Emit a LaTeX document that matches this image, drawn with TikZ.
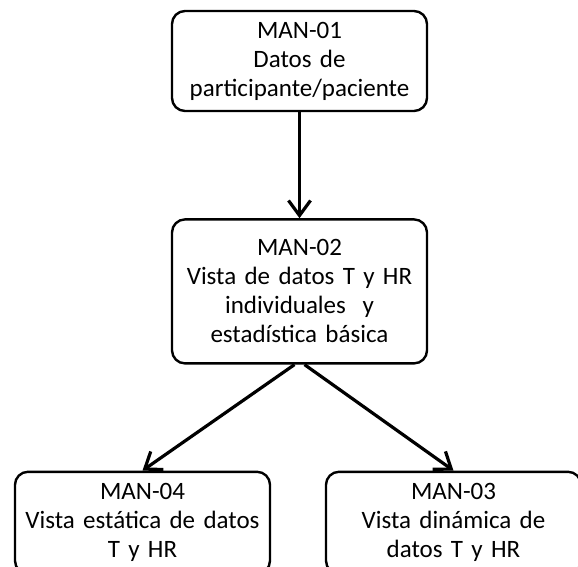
\documentclass[tikz,border=0pt]{standalone}
\usepackage{fontspec}
\setmainfont{Carlito}[WordSpace=0.85]
\usetikzlibrary{positioning,arrows.meta}
\begin{document}
\begin{tikzpicture}[
  x=1pt, y=1pt,
  manbox/.style = {shape=rectangle, rounded corners=13pt, draw, line width=2.4pt,
    align=center, text width=250pt, minimum width=255pt, inner sep=0pt,
    font=\fontsize{25}{29}\selectfont},
  flow/.style = {line width=3.2pt, -{Straight Barb[length=15pt,width=22pt]}}
  ]
  \useasboundingbox (0,0) rectangle (578,-567);
  \node[manbox, minimum height=100pt] (man01) at (299.5,-61)
    {MAN-01\\Datos de\\participante/paciente};
  \node[manbox, minimum height=144pt, below=106pt of man01] (man02)
    {MAN-02\\Vista de datos T y HR\\individuales~ y\\estadística básica};
  \node[manbox, minimum height=102pt, below=106pt of man02, xshift=-157pt] (man04)
    {MAN-04\\Vista estática de datos\\T y HR};
  \node[manbox, minimum height=102pt, below=106pt of man02, xshift=154pt] (man03)
    {MAN-03\\Vista dinámica de\\datos T y HR};
  \draw[flow] (man01.south) -- (man02.north);
  \draw[flow] ([xshift=-5pt]man02.south) -- (man04.north);
  \draw[flow] ([xshift=5pt]man02.south) -- (man03.north);
\end{tikzpicture}
\end{document}
